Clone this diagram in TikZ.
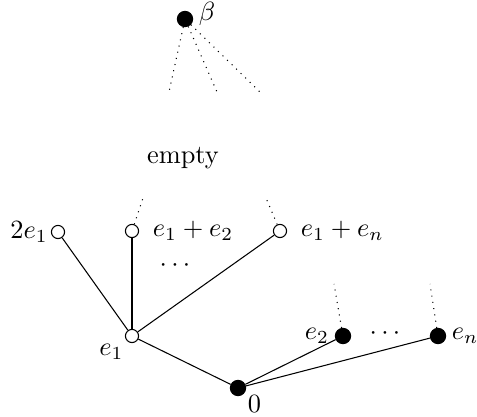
\documentclass[tikz,border=0pt]{standalone}
\usepackage{tikz}
\usetikzlibrary{positioning}

\begin{document}
\begin{tikzpicture}[
    x=0.3795pt, y=-0.3795pt,
    full/.style={circle, draw=black, fill=black, inner sep=0pt, minimum size=5.8pt},
    hollow/.style={circle, draw=black, fill=white, inner sep=0pt, minimum size=5pt},
    edge/.style={thin},
    open/.style={dotted, thin}
]
\useasboundingbox (0,0) rectangle (477,417);
\node (beta) at (185,19) [full, label={[inner sep=2pt, yshift=2pt]right:$\beta$}] {};
\coordinate (b1) at (169,92);
\coordinate (b2) at (217,92);
\coordinate (b3) at (260,92);
\draw[open] (beta) -- (b1);
\draw[open] (beta) -- (b2);
\draw[open] (beta) -- (b3);
\node (empty) at (183,158) {empty};

\node (zero) at (238,388) [full, label={[inner sep=1pt]-35:$0$}] {};
\node (e1) at (132,336) [hollow, label={[inner sep=1pt]220:$e_1$}] {};
\node (e2) at (343,336) [full, label={[inner sep=2pt]left:$e_2$}] {};
\node (en) at (438,336) [full, label={[inner sep=2pt]right:$e_n$}] {};
\node (dotsA) at (385,334) {$\cdots$};
\node (te1) at (58,232) [hollow, label={[inner sep=1pt]left:$2e_1$}] {};
\node (te12) at (132,231) [hollow, label={[inner sep=5pt]right:$e_1+e_2$}] {};
\node (te1n) at (280,231) [hollow, label={[inner sep=5pt]right:$e_1+e_n$}] {};
\node (dotsB) at (175,266) {$\cdots$};

\draw[edge] (zero) -- (e1);
\draw[edge] (zero) -- (e2);
\draw[edge] (zero) -- (en);
\draw[edge] (e1) -- (te1);
\draw[edge] (e1) -- (te12);
\draw[edge] (e1) -- (te1n);

% open branches above
\coordinate (u12) at (143,198);
\coordinate (u1n) at (266,198);
\coordinate (u2) at (334,284);
\coordinate (un) at (430,284);
\draw[open] (te12) -- (u12);
\draw[open] (te1n) -- (u1n);
\draw[open] (e2) -- (u2);
\draw[open] (en) -- (un);
\end{tikzpicture}
\end{document}
